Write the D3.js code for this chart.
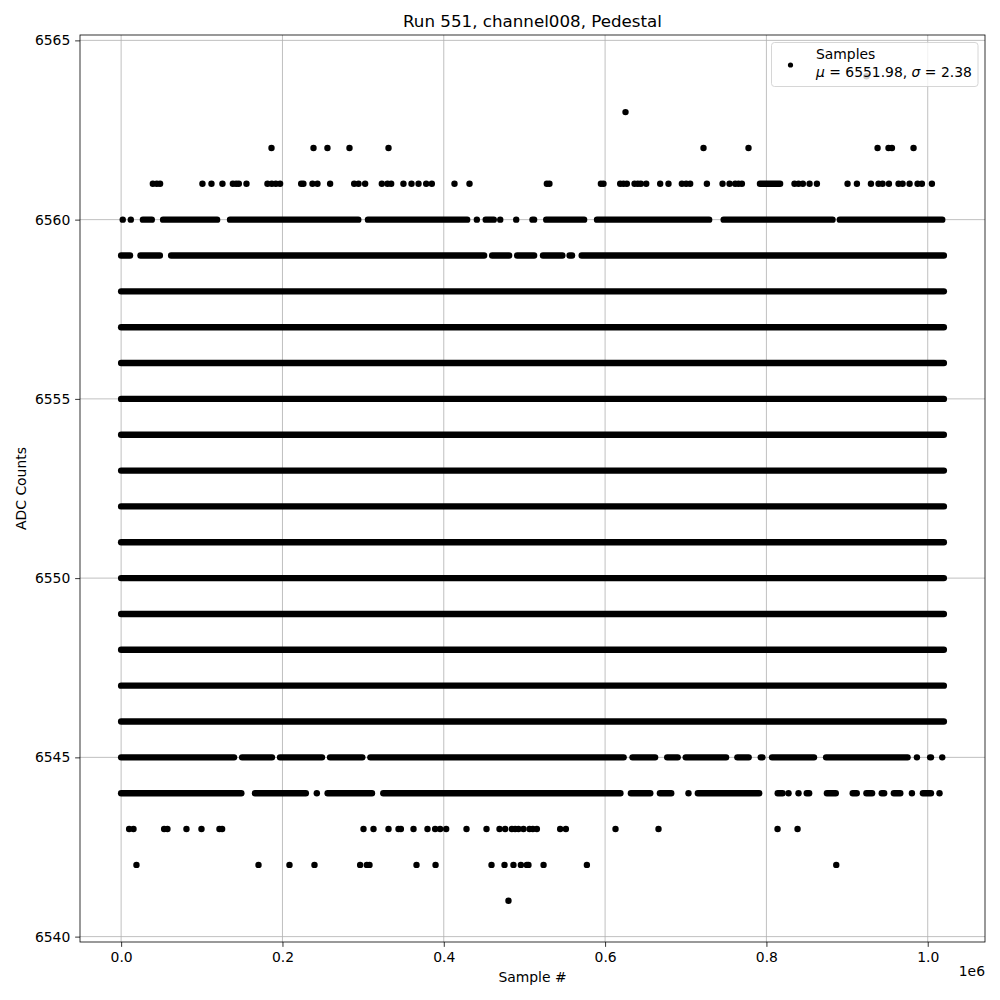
<!DOCTYPE html>
<html>
<head>
<meta charset="utf-8">
<script src="https://cdn.jsdelivr.net/npm/d3@7"></script>
<style>
body { margin: 0; background: #fff; }
text { font-family: "DejaVu Sans", sans-serif; }
</style>
</head>
<body>
<svg></svg>
<script>
// sample positions are in units of 1e6 (as on the axis); a pair is a dense run of samples
const xTicks = [0.0, 0.2, 0.4, 0.6, 0.8, 1.0];
const yTicks = [6540, 6545, 6550, 6555, 6560, 6565];

const fullLevels = [6546, 6547, 6548, 6549, 6550, 6551, 6552, 6553, 6554, 6555, 6556, 6557, 6558];
const fullRun = [0.0, 1.02];

const level6564 = [0.924];
const level6563 = [0.6253];
const level6562 = [0.1864, 0.2385, 0.2558, 0.2831, 0.3315, 0.722, 0.7778, 0.9378, 0.9514, 0.9556, 0.9824];
const level6561 = [0.0393, 0.0442, 0.0483, 0.1008, 0.112, 0.1256, 0.1385, 0.1426, 0.1459, 0.1554, 0.1814,
                   0.1868, 0.1918, 0.1971, 0.2232, 0.226, 0.2372, 0.2434, 0.2591, 0.2889, 0.2943, 0.3025,
                   0.3232, 0.3302, 0.3348, 0.35, 0.36, 0.3687, 0.3782, 0.3852, 0.4133, 0.4319, 0.5278,
                   0.531, 0.5948, 0.598, 0.6187, 0.6228, 0.627, 0.6365, 0.6406, 0.6443, 0.651, 0.6683,
                   0.6786, 0.6952, 0.7005, 0.7055, 0.7262, 0.7456, 0.7543, 0.7613, 0.7654, 0.7696,
                   [0.792, 0.817], 0.8348, 0.8398, 0.8452, 0.8535, 0.8626, 0.9006, 0.9122, 0.9296, 0.939,
                   0.944, 0.9519, 0.9638, 0.9688, 0.9775, 0.9874, 0.9928, 1.0052];
const level6560 = [0.002, 0.012, [0.027, 0.038], [0.052, 0.119], [0.135, 0.294], [0.306, 0.429], 0.441,
                   [0.452, 0.462], 0.47, 0.4898, [0.510, 0.512], [0.527, 0.574], [0.590, 0.729],
                   [0.747, 0.882], [0.891, 1.018]];
const level6559 = [[0.0, 0.011], [0.024, 0.048], [0.062, 0.450], [0.460, 0.481], [0.491, 0.512],
                   [0.523, 0.547], [0.556, 0.559], [0.571, 1.02]];
const level6545 = [[0.0, 0.140], [0.150, 0.187], [0.197, 0.249], [0.259, 0.299], [0.309, 0.623],
                   [0.634, 0.662], [0.677, 0.690], [0.700, 0.750], [0.764, 0.778], [0.793, 0.795],
                   [0.807, 0.859], [0.874, 0.975], 0.9866, [1.003, 1.004], 1.018];
const level6544 = [[0.0, 0.149], [0.166, 0.229], 0.2426, [0.256, 0.311], [0.325, 0.619], [0.632, 0.656],
                   [0.668, 0.682], 0.7034, [0.715, 0.791], [0.814, 0.820], 0.8274, 0.8398, [0.850, 0.853],
                   [0.875, 0.886], [0.907, 0.912], [0.924, 0.931], [0.943, 0.946], [0.958, 0.966], 0.9804,
                   [0.994, 1.004], 1.0146];
const level6543 = [0.0099, 0.0153, 0.0533, 0.0574, 0.081, 0.0996, 0.1219, 0.1252, 0.3005, 0.3129, 0.3315,
                   0.3439, 0.3468, 0.3625, 0.3798, 0.3893, 0.3955, 0.403, 0.4282, 0.453, 0.4691, 0.4761,
                   0.4844, 0.4885, 0.4926, 0.4988, 0.5063, 0.5104, 0.5154, 0.5443, 0.5514, 0.6129, 0.6662,
                   0.8138, 0.8386];
const level6542 = [0.019, 0.1703, 0.2087, 0.2397, 0.2963, 0.3046, 0.3079, 0.3662, 0.3898, 0.4592, 0.4753,
                   0.4864, 0.4956, 0.503, 0.505, 0.5237, 0.5774, 0.8866];
const level6541 = [0.4802];

const sparseLevels = [
    {adc: 6564, samples: level6564}, {adc: 6563, samples: level6563}, {adc: 6562, samples: level6562},
    {adc: 6561, samples: level6561}, {adc: 6560, samples: level6560}, {adc: 6559, samples: level6559},
    {adc: 6545, samples: level6545}, {adc: 6544, samples: level6544}, {adc: 6543, samples: level6543},
    {adc: 6542, samples: level6542}, {adc: 6541, samples: level6541}];

const width = 1000;
const height = 1000;
const plot = {left: 80, right: 985, top: 35, bottom: 942};
const dotR = 3.2;

function drawChart() {
    const svg = d3.select("svg").attr("width", width).attr("height", height);
    const xScale = d3.scaleLinear().domain([-0.051, 1.071]).range([plot.left, plot.right]);
    const yScale = d3.scaleLinear().domain([6539.85, 6565.15]).range([plot.bottom, plot.top]);

    // grid
    const grid = svg.append("g").attr("stroke", "#b0b0b0").attr("stroke-width", 0.8);
    grid.selectAll(".gx").data(xTicks).enter().append("line")
        .attr("x1", d => xScale(d)).attr("x2", d => xScale(d))
        .attr("y1", plot.top).attr("y2", plot.bottom);
    grid.selectAll(".gy").data(yTicks).enter().append("line")
        .attr("y1", d => yScale(d)).attr("y2", d => yScale(d))
        .attr("x1", plot.left).attr("x2", plot.right);

    // rows of samples
    const rows = fullLevels.map(l => ({adc: l, samples: [fullRun]})).concat(sparseLevels);
    const marks = svg.append("g");
    rows.forEach(row => {
        const runs = row.samples.filter(s => Array.isArray(s));
        const points = row.samples.filter(s => !Array.isArray(s));
        marks.append("g").selectAll("line").data(runs).enter().append("line")
            .attr("x1", d => xScale(d[0])).attr("x2", d => xScale(d[1]))
            .attr("y1", yScale(row.adc)).attr("y2", yScale(row.adc))
            .attr("stroke", "#000").attr("stroke-width", dotR * 2).attr("stroke-linecap", "round");
        marks.append("g").selectAll("circle").data(points).enter().append("circle")
            .attr("cx", d => xScale(d)).attr("cy", yScale(row.adc)).attr("r", dotR).attr("fill", "#000");
    });

    // axes
    const gx = svg.append("g").attr("transform", `translate(0,${plot.bottom})`)
        .call(d3.axisBottom(xScale).tickValues(xTicks).tickFormat(d3.format(".1f")).tickSize(4.86).tickPadding(4.86));
    const gy = svg.append("g").attr("transform", `translate(${plot.left},0)`)
        .call(d3.axisLeft(yScale).tickValues(yTicks).tickFormat(d3.format("d")).tickSize(4.86).tickPadding(4.86));
    [gx, gy].forEach(g => {
        g.select(".domain").remove();
        g.selectAll("line").attr("stroke", "#000").attr("stroke-width", 0.8);
        g.selectAll("text").attr("font-size", "13.9px").attr("fill", "#000")
            .attr("font-family", "DejaVu Sans");
    });

    svg.append("rect").attr("x", plot.left).attr("y", plot.top)
        .attr("width", plot.right - plot.left).attr("height", plot.bottom - plot.top)
        .attr("fill", "none").attr("stroke", "#000").attr("stroke-width", 0.8);

    svg.append("text").attr("x", (plot.left + plot.right) / 2).attr("y", 27)
        .attr("text-anchor", "middle").attr("font-size", "16.7px").text("Run 551, channel008, Pedestal");
    svg.append("text").attr("x", (plot.left + plot.right) / 2).attr("y", 982)
        .attr("text-anchor", "middle").attr("font-size", "13.9px").text("Sample #");
    svg.append("text").attr("transform", `translate(26,${(plot.top + plot.bottom) / 2}) rotate(-90)`)
        .attr("text-anchor", "middle").attr("font-size", "13.9px").text("ADC Counts");
    svg.append("text").attr("x", plot.right).attr("y", 976)
        .attr("text-anchor", "end").attr("font-size", "13.9px").text("1e6");

    // legend
    const legend = svg.append("g");
    legend.append("rect").attr("x", 771.5).attr("y", 42.5).attr("width", 206.5).attr("height", 44)
        .attr("rx", 3).attr("fill", "#fff").attr("fill-opacity", 0.8)
        .attr("stroke", "#cccccc").attr("stroke-width", 0.8);
    legend.append("circle").attr("cx", 790.5).attr("cy", 65).attr("r", 2.6).attr("fill", "#000");
    legend.append("text").attr("x", 816).attr("y", 59).attr("font-size", "13.9px").text("Samples");
    const stats = legend.append("text").attr("x", 816).attr("y", 77).attr("font-size", "13.9px");
    stats.append("tspan").attr("font-style", "italic").text("μ");
    stats.append("tspan").text(" = 6551.98, ");
    stats.append("tspan").attr("font-style", "italic").text("σ");
    stats.append("tspan").text(" = 2.38");
}

drawChart();
</script>
</body>
</html>
